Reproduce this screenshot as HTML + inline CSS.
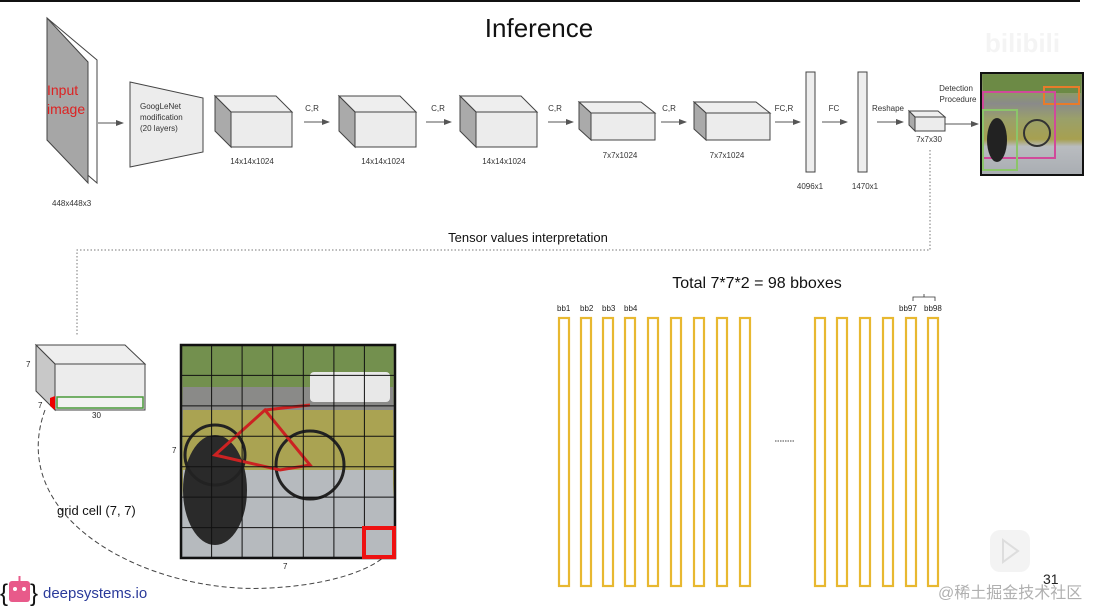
<!DOCTYPE html>
<html><head><meta charset="utf-8"><style>
html,body{margin:0;padding:0;background:#fff;}
svg{display:block;font-family:"Liberation Sans",Arial,sans-serif;}
</style></head><body>
<svg width="1102" height="608" viewBox="0 0 1102 608" xmlns="http://www.w3.org/2000/svg">
<defs>
<marker id="ar" markerWidth="8" markerHeight="8" refX="7" refY="4" orient="auto" markerUnits="userSpaceOnUse"><path d="M0,1 L8,4 L0,7 z" fill="#555"/></marker>
<linearGradient id="photo" x1="0" y1="0" x2="0" y2="1">
<stop offset="0" stop-color="#6f8a4a"/><stop offset="0.2" stop-color="#8c9a6a"/><stop offset="0.3" stop-color="#8a8a8a"/><stop offset="0.45" stop-color="#9aa06a"/><stop offset="0.65" stop-color="#a7a050"/><stop offset="0.72" stop-color="#b9bcc0"/><stop offset="1" stop-color="#a9adb2"/>
</linearGradient>
</defs>
<rect x="0" y="0" width="1080" height="2" fill="#111"/>
<text x="539" y="37" font-size="26" text-anchor="middle" fill="#111">Inference</text>
<text x="985" y="52" font-size="26" font-weight="bold" fill="#f4f4f4">bilibili</text>

<!-- input slab -->
<polygon points="47,18 97,60 97,183 47,140" fill="#fff" stroke="#444" stroke-width="1"/>
<polygon points="47,18 88,62 88,183 47,140" fill="#a6a6a6" stroke="#444" stroke-width="1"/>
<text x="47" y="95" font-size="14" fill="#d22">Input</text>
<text x="47" y="114" font-size="14" fill="#d22">image</text>
<text x="52" y="206" font-size="8" fill="#333">448x448x3</text>
<line x1="98" y1="123" x2="123" y2="123" stroke="#555" marker-end="url(#ar)"/>

<!-- GoogLeNet -->
<polygon points="130,82 203,98 203,152 130,167" fill="#ececec" stroke="#444"/>
<text x="140" y="109" font-size="8" fill="#333">GoogLeNet</text>
<text x="140" y="120" font-size="8" fill="#333">modification</text>
<text x="140" y="131" font-size="8" fill="#333">(20 layers)</text>

<g stroke="#444" stroke-width="1">
<polygon points="215,96 276,96 292,112 231,112" fill="#eee"/><polygon points="215,96 231,112 231,147 215,131" fill="#aaa"/><rect x="231" y="112" width="61" height="35" fill="#ececec"/>
<polygon points="339,96 400,96 416,112 355,112" fill="#eee"/><polygon points="339,96 355,112 355,147 339,131" fill="#aaa"/><rect x="355" y="112" width="61" height="35" fill="#ececec"/>
<polygon points="460,96 521,96 537,112 476,112" fill="#eee"/><polygon points="460,96 476,112 476,147 460,131" fill="#aaa"/><rect x="476" y="112" width="61" height="35" fill="#ececec"/>
<polygon points="579,102 641,102 655,113 591,113" fill="#eee"/><polygon points="579,102 591,113 591,140 579,129" fill="#aaa"/><rect x="591" y="113" width="64" height="27" fill="#ececec"/>
<polygon points="694,102 756,102 770,113 706,113" fill="#eee"/><polygon points="694,102 706,113 706,140 694,129" fill="#aaa"/><rect x="706" y="113" width="64" height="27" fill="#ececec"/>
<rect x="806" y="72" width="9" height="100" fill="#eee"/>
<rect x="858" y="72" width="9" height="100" fill="#eee"/>
<polygon points="909,111 938,111 945,117 915,117" fill="#eee"/><polygon points="909,111 915,117 915,131 909,125" fill="#aaa"/><rect x="915" y="117" width="30" height="14" fill="#ececec"/>
</g>
<g font-size="8" fill="#333" text-anchor="middle">
<text x="252" y="164">14x14x1024</text><text x="383" y="164">14x14x1024</text><text x="504" y="164">14x14x1024</text>
<text x="620" y="158">7x7x1024</text><text x="727" y="158">7x7x1024</text>
<text x="810" y="189">4096x1</text><text x="865" y="189">1470x1</text>
<text x="929" y="142">7x7x30</text>
<text x="312" y="111">C,R</text><text x="438" y="111">C,R</text><text x="555" y="111">C,R</text><text x="669" y="111">C,R</text><text x="784" y="111">FC,R</text><text x="834" y="111">FC</text><text x="888" y="111">Reshape</text>
<text x="956" y="91">Detection</text><text x="958" y="102">Procedure</text>
</g>
<g stroke="#555" stroke-width="1">
<line x1="304" y1="122" x2="329" y2="122" marker-end="url(#ar)"/>
<line x1="426" y1="122" x2="451" y2="122" marker-end="url(#ar)"/>
<line x1="548" y1="122" x2="573" y2="122" marker-end="url(#ar)"/>
<line x1="661" y1="122" x2="686" y2="122" marker-end="url(#ar)"/>
<line x1="775" y1="122" x2="800" y2="122" marker-end="url(#ar)"/>
<line x1="822" y1="122" x2="847" y2="122" marker-end="url(#ar)"/>
<line x1="877" y1="122" x2="903" y2="122" marker-end="url(#ar)"/>
<line x1="945" y1="124" x2="978" y2="124" marker-end="url(#ar)"/>
</g>
<!-- detection image -->
<rect x="981" y="73" width="102" height="102" fill="url(#photo)" stroke="#111" stroke-width="2"/>
<rect x="983" y="75" width="98" height="18" fill="#6c8a45"/>
<rect x="1044" y="87" width="35" height="17" fill="none" stroke="#e87b2a" stroke-width="2"/>
<rect x="983" y="92" width="72" height="66" fill="none" stroke="#d04a9a" stroke-width="2"/>
<rect x="983" y="110" width="34" height="60" fill="none" stroke="#8cc56a" stroke-width="2"/>
<ellipse cx="997" cy="140" rx="10" ry="22" fill="#222"/>
<circle cx="1037" cy="133" r="13" fill="none" stroke="#333" stroke-width="2"/>

<!-- tensor interpretation -->
<path d="M930,150 V250 H77 V335" fill="none" stroke="#777" stroke-dasharray="1.5,2" stroke-width="1"/>
<text x="528" y="242" font-size="13" fill="#111" text-anchor="middle">Tensor values interpretation</text>

<!-- bottom cube -->
<g stroke="#444">
<polygon points="36,345 125,345 145,364 55,364" fill="#eee"/>
<polygon points="36,345 55,364 55,410 36,391" fill="#c8c8c8"/>
<rect x="55" y="364" width="90" height="46" fill="#ececec"/>
</g>
<rect x="57" y="397" width="86" height="11" fill="#f2f2f2" stroke="#4a9a3a" stroke-width="1.5"/>
<path d="M50,398 L55,396 L55,410 L50,406 z" fill="#e00"/>
<g font-size="8" fill="#222"><text x="26" y="367">7</text><text x="38" y="408">7</text><text x="92" y="418">30</text><text x="172" y="453">7</text><text x="283" y="569">7</text></g>
<path d="M45,410 C5,520 150,595 270,588 C330,585 370,570 385,556" fill="none" stroke="#444" stroke-dasharray="5,3" stroke-width="1"/>
<text x="57" y="515" font-size="13" fill="#111">grid cell (7, 7)</text>

<!-- grid photo -->
<rect x="181" y="345" width="214" height="213" fill="url(#photo)"/>
<rect x="183" y="347" width="210" height="40" fill="#73904e"/>
<rect x="183" y="387" width="210" height="22" fill="#8a8a88"/>
<rect x="310" y="372" width="80" height="30" fill="#e8e8e8" rx="4"/>
<rect x="183" y="410" width="210" height="60" fill="#aaa352"/>
<rect x="183" y="470" width="210" height="86" fill="#b6babe"/>
<ellipse cx="215" cy="490" rx="32" ry="55" fill="#2a2a2a"/>
<circle cx="310" cy="465" r="34" fill="none" stroke="#222" stroke-width="3"/>
<circle cx="215" cy="455" r="30" fill="none" stroke="#222" stroke-width="3"/>
<path d="M215,455 L265,410 L310,465 L280,470 Z M265,410 L310,405" fill="none" stroke="#c22" stroke-width="3"/>
<g stroke="#111" stroke-width="1">
<line x1="211.6" y1="345" x2="211.6" y2="558"/><line x1="242.1" y1="345" x2="242.1" y2="558"/><line x1="272.7" y1="345" x2="272.7" y2="558"/><line x1="303.3" y1="345" x2="303.3" y2="558"/><line x1="333.9" y1="345" x2="333.9" y2="558"/><line x1="364.4" y1="345" x2="364.4" y2="558"/>
<line x1="181" y1="375.4" x2="395" y2="375.4"/><line x1="181" y1="405.9" x2="395" y2="405.9"/><line x1="181" y1="436.3" x2="395" y2="436.3"/><line x1="181" y1="466.7" x2="395" y2="466.7"/><line x1="181" y1="497.1" x2="395" y2="497.1"/><line x1="181" y1="527.6" x2="395" y2="527.6"/>
</g>
<rect x="181" y="345" width="214" height="213" fill="none" stroke="#111" stroke-width="2.5"/>
<rect x="364" y="528" width="30" height="29" fill="none" stroke="#e11" stroke-width="4"/>

<!-- bboxes -->
<text x="757" y="288" font-size="16" fill="#111" text-anchor="middle">Total 7*7*2 = 98 bboxes</text>
<g font-size="8" fill="#222"><text x="557" y="311">bb1</text><text x="580" y="311">bb2</text><text x="602" y="311">bb3</text><text x="624" y="311">bb4</text><text x="899" y="311">bb97</text><text x="924" y="311">bb98</text></g>
<path d="M913,301 V297 H935 V301 M924,297 V294" fill="none" stroke="#333" stroke-width="0.8"/>
<g fill="none" stroke="#e8b830" stroke-width="2.2">
<rect x="559" y="318" width="10" height="268"/><rect x="581" y="318" width="10" height="268"/><rect x="603" y="318" width="10" height="268"/><rect x="625" y="318" width="10" height="268"/><rect x="648" y="318" width="10" height="268"/><rect x="671" y="318" width="10" height="268"/><rect x="694" y="318" width="10" height="268"/><rect x="717" y="318" width="10" height="268"/><rect x="740" y="318" width="10" height="268"/>
<rect x="815" y="318" width="10" height="268"/><rect x="837" y="318" width="10" height="268"/><rect x="860" y="318" width="10" height="268"/><rect x="883" y="318" width="10" height="268"/><rect x="906" y="318" width="10" height="268"/><rect x="928" y="318" width="10" height="268"/>
</g>
<line x1="775" y1="441" x2="795" y2="441" stroke="#444" stroke-dasharray="1.5,1"/>

<!-- logo -->
<text x="0" y="601" font-size="24" fill="#111">{</text>
<rect x="9" y="581" width="21" height="21" rx="3" fill="#e85a8a"/>
<circle cx="15" cy="589" r="2" fill="#fff"/><circle cx="24" cy="589" r="2" fill="#fff"/>
<line x1="19.5" y1="576" x2="19.5" y2="581" stroke="#e85a8a" stroke-width="2"/>
<text x="30" y="601" font-size="24" fill="#111">}</text>
<text x="43" y="598" font-size="15" fill="#2a3a9a">deepsystems.io</text>

<text x="1043" y="584" font-size="14" fill="#222">31</text>
<rect x="990" y="530" width="40" height="42" rx="10" fill="#f0f0f0" opacity="0.8"/>
<path d="M1003,540 L1018,551 L1003,562 z" fill="none" stroke="#ddd" stroke-width="2"/>
<text x="938" y="598" font-size="16" fill="#b0b0b0" font-family="'Liberation Sans','Noto Sans CJK SC',sans-serif">@稀土掘金技术社区</text>
</svg>
</body></html>
